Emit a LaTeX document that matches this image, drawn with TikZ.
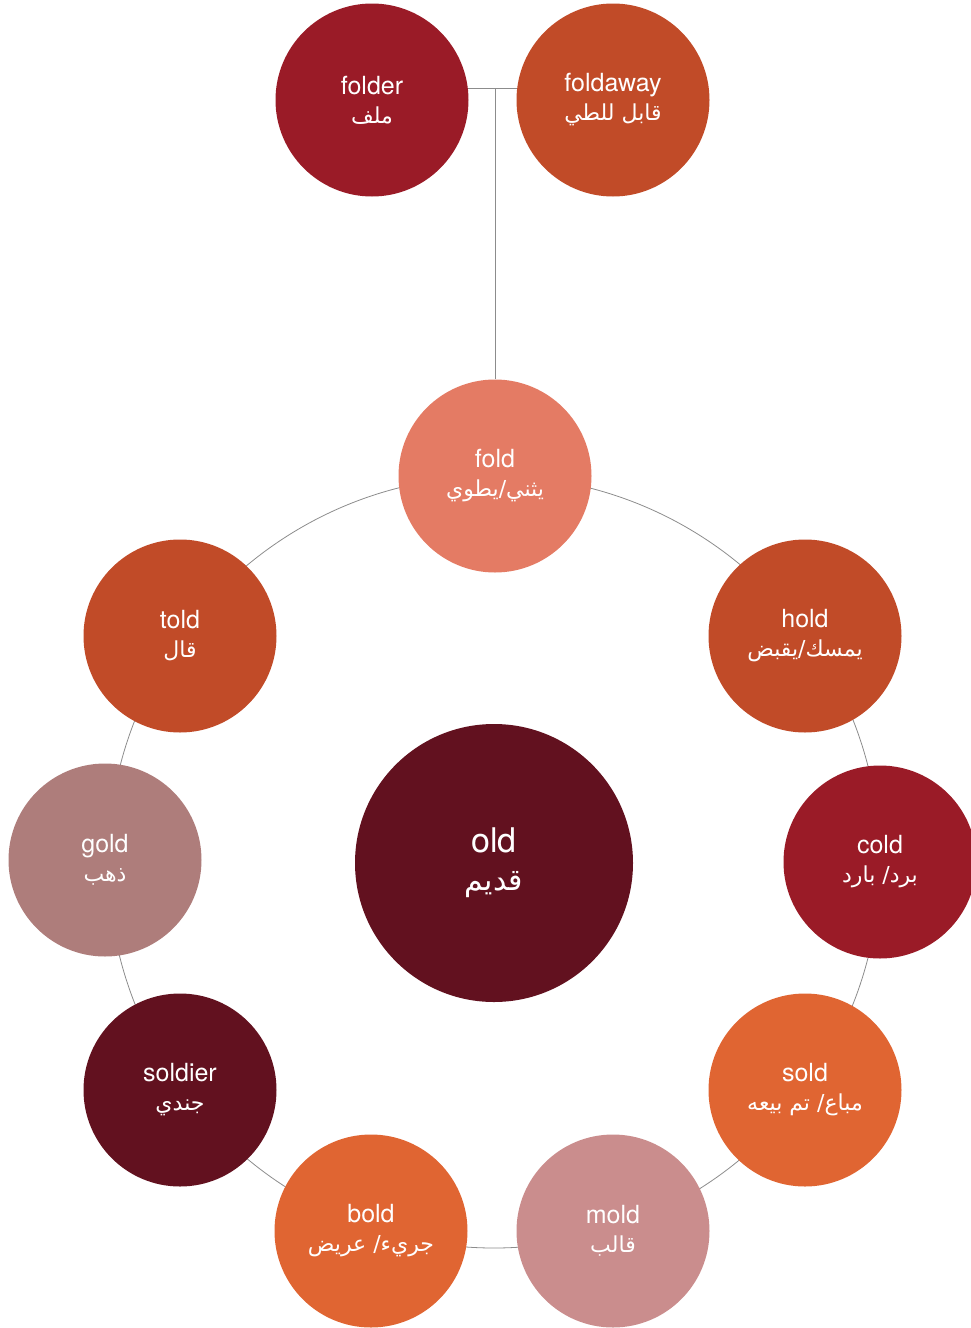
\documentclass[tikz,border=0pt]{standalone}
\usepackage{fontspec}
\setmainfont{TeX Gyre Heros}
\newfontfamily\arabicfont[Script=Arabic]{DejaVu Sans}
\TeXXeTstate=1
\definecolor{wine}{HTML}{62111F}
\definecolor{crimson}{HTML}{9A1B27}
\definecolor{rust}{HTML}{C14B28}
\definecolor{salmon}{HTML}{E47B64}
\definecolor{tangerine}{HTML}{E06532}
\definecolor{mauve}{HTML}{AE7D7B}
\definecolor{rosy}{HTML}{CA8D8D}
\newcommand\arword[2][22]{{\arabicfont\fontsize{#1}{29}\selectfont\beginR #2\endR}}
\begin{document}
\begin{tikzpicture}[x=1pt, y=-1pt,
      word/.style = {shape=circle, minimum size=193pt, inner sep=0pt,
        text=white, align=center, font=\fontsize{25}{29}\selectfont},
      link/.style = {draw=gray!90, line width=0.8pt}]
      \useasboundingbox (0,0) rectangle (971,1328);
      % ring behind the words
      \coordinate (hub) at (494,862);
      \draw[link] (hub) circle[radius=386pt];
      \node[word, fill=wine, minimum size=278pt, font=\fontsize{34}{38}\selectfont]
        (old) at (494,863) {old\\\arword[30]{قديم}};
      \node[word, fill=salmon] (fold) at (495,476) {fold\\\arword{يثني/يطوي}};
      \node[word, fill=rust] (hold) at (805,636) {hold\\\arword{يمسك/يقبض}};
      \node[word, fill=crimson] (cold) at (880,862) {cold\\\arword{برد/ بارد}};
      \node[word, fill=tangerine] (sold) at (805,1090) {sold\\\arword{مباع/ تم بيعه}};
      \node[word, fill=rosy] (mold) at (613,1231) {mold\\\arword{قالب}};
      \node[word, fill=tangerine] (bold) at (371,1231) {bold\\\arword{جريء/ عريض}};
      \node[word, fill=wine] (soldier) at (180,1090) {soldier\\\arword{جندي}};
      \node[word, fill=mauve] (gold) at (105,860) {gold\\\arword{ذهب}};
      \node[word, fill=rust] (told) at (180,636) {told\\\arword{قال}};
      % top pair
      \node[word, fill=crimson] (folder) at (372,100) {folder\\\arword{ملف}};
      \node[word, fill=rust] (foldaway) at (613,100) {foldaway\\\arword{قابل للطي}};
      \coordinate (join) at (fold.north |- folder.7);
      \draw[link] (fold.north) -- (join);
      \draw[link] (folder.7) -- (foldaway.173);
    \end{tikzpicture}
\end{document}
